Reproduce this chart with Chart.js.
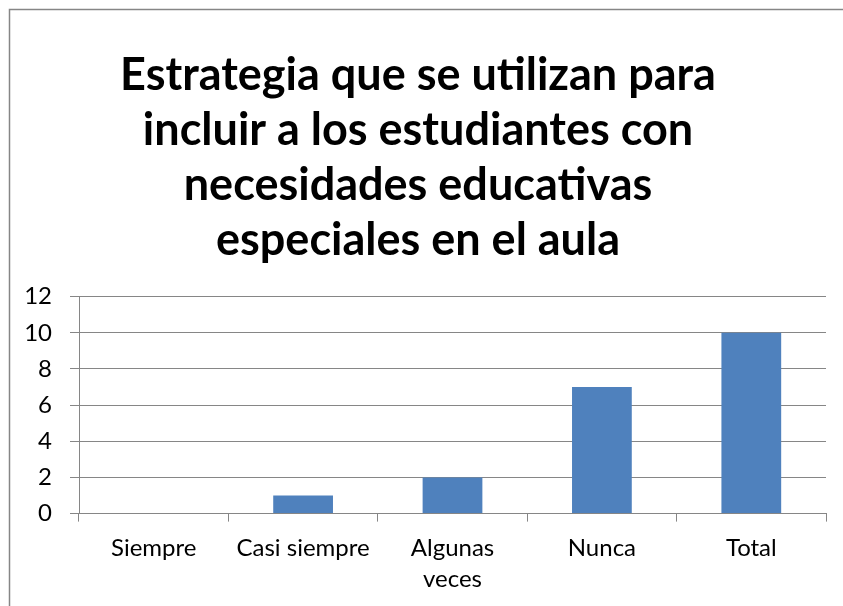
<!DOCTYPE html>
<html>
<head>
<meta charset="utf-8">
<script src="https://cdn.jsdelivr.net/npm/chart.js@4"></script>
<style>
  html, body { margin: 0; padding: 0; background: #fff; }
  #wrap { width: 843px; height: 606px; }
</style>
</head>
<body>
<div id="wrap"><canvas id="chart"></canvas></div>
<script>
const categories = ['Siempre', 'Casi siempre', ['Algunas', 'veces'], 'Nunca', 'Total'];
const values = [0, 1, 2, 7, 10];
const titleLines = ['Estrategia que se utilizan para', 'incluir a los estudiantes con', 'necesidades educativas', 'especiales en el aula'];
const yTicks = [0, 2, 4, 6, 8, 10, 12];

// gray frame around the chart, as in the original
const framePlugin = {
    id: 'frame',
    beforeDraw(chart) {
        const ctx = chart.ctx;
        ctx.save();
        ctx.fillStyle = '#fff';
        ctx.fillRect(0, 0, chart.width, chart.height);
        ctx.strokeStyle = '#868686';
        ctx.lineWidth = 1.5;
        ctx.strokeRect(9.5, 9.5, chart.width + 20, chart.height + 20);
        ctx.restore();
    }
};

const ctx = document.getElementById('chart').getContext('2d');
new Chart(ctx, {
    type: 'bar',
    data: {
        labels: categories,
        datasets: [{
            data: values,
            backgroundColor: '#4F81BD',
            categoryPercentage: 1,
            barPercentage: 0.4
        }]
    },
    options: {
        responsive: true,
        maintainAspectRatio: false,
        animation: false,
        layout: { padding: { top: 48, left: 10, right: 17, bottom: 0 } },
        plugins: {
            legend: { display: false },
            tooltip: { enabled: false },
            title: {
                display: true,
                text: titleLines,
                color: '#000',
                font: { family: 'Lato', size: 45, weight: 'bold', lineHeight: 1.22 },
                padding: { top: 0, bottom: 29 }
            }
        },
        scales: {
            x: {
                grid: {
                    offset: true,
                    drawOnChartArea: false,
                    drawTicks: true,
                    tickLength: 8,
                    color: '#868686'
                },
                border: { color: '#868686', width: 1 },
                ticks: {
                    color: '#000',
                    font: { family: 'Lato', size: 24, lineHeight: 1.3 },
                    padding: 11,
                    maxRotation: 0,
                    autoSkip: false
                }
            },
            y: {
                min: 0,
                max: 12,
                afterBuildTicks(scale) {
                    scale.ticks = yTicks.map(v => ({ value: v }));
                },
                afterFit(scale) {
                    scale.width = 69;
                },
                grid: {
                    color: '#868686',
                    tickLength: 9
                },
                border: { color: '#868686', width: 1 },
                ticks: {
                    color: '#000',
                    font: { family: 'Lato', size: 24 },
                    padding: 18
                }
            }
        }
    },
    plugins: [framePlugin]
});
</script>
</body>
</html>
